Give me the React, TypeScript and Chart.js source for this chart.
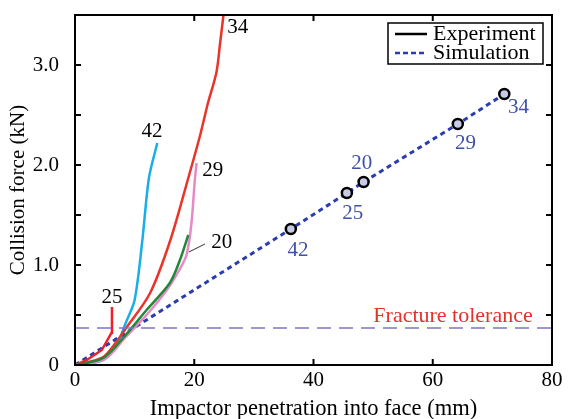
import React, { useEffect, useRef } from "react";
import { Chart, registerables } from "chart.js";
Chart.register(...registerables);

const FONT = "'Liberation Serif', 'Times New Roman', serif";

// Experiment curves (penetration mm, force kN)
const exp34X = [0, 3, 5, 8.7, 12.6, 16, 19, 21, 22.3, 23.7, 24.3, 25.2];
const exp34Y = [0, 0.04, 0.09, 0.38, 0.72, 1.25, 1.87, 2.3, 2.62, 2.92, 3.2, 3.65];
const exp42X = [0, 3, 5, 7, 8.5, 10, 11.3, 12.4, 13.8];
const exp42Y = [0, 0.02, 0.06, 0.2, 0.42, 0.65, 1.25, 1.87, 2.22];
const exp29X = [0, 3, 5.5, 8.5, 12, 15.4, 17.5, 18.7, 19.5, 20.1, 20.4];
const exp29Y = [0, 0.02, 0.08, 0.28, 0.5, 0.75, 0.95, 1.1, 1.4, 1.85, 2.02];
const exp20X = [0, 2, 5, 8.5, 12, 15.9, 17.6, 19];
const exp20Y = [0, 0.02, 0.08, 0.3, 0.55, 0.82, 1.05, 1.3];
const exp25X = [0, 2, 4.5, 6.1, 6.2];
const exp25Y = [0, 0.05, 0.15, 0.32, 0.58];

// Simulation
const simX = [0, 36.2, 45.6, 48.4, 64.2, 72];
const simY = [0, 1.36, 1.72, 1.83, 2.41, 2.71];
const simLabels = ["", "42", "25", "20", "29", "34"];
const simLabelX = [0, 37.4, 46.6, 48.1, 65.5, 74.4];
const simLabelY = [0, 1.15, 1.52, 2.02, 2.22, 2.58];

const expLabels = ["34", "42", "29", "20", "25"];
const expLabelX = [27.3, 12.9, 23.1, 24.6, 6.2];
const expLabelY = [3.38, 2.34, 1.95, 1.23, 0.68];

const fractureTolerance = 0.37;
const xTicks = [0, 20, 40, 60, 80];
const yTicks = [0, 0.5, 1, 1.5, 2, 2.5, 3, 3.5];

const zip = (xs: number[], ys: number[]) => xs.map((x, i) => ({ x, y: ys[i] }));

const overlay = {
  id: "overlay",
  afterDatasetsDraw(chart: any) {
    const { ctx, chartArea, scales } = chart;
    const { left, right, top, bottom } = chartArea;
    const x = scales.x, y = scales.y;
    ctx.save();
    ctx.strokeStyle = "#000";
    ctx.lineWidth = 2;
    ctx.strokeRect(left, top, right - left, bottom - top);
    const seg = (a: number, b: number, c: number, d: number) => {
      ctx.beginPath(); ctx.moveTo(a, b); ctx.lineTo(c, d); ctx.stroke();
    };
    for (const v of xTicks) {
      const px = x.getPixelForValue(v);
      seg(px, bottom, px, bottom - 6);
      seg(px, top, px, top + 6);
    }
    for (const v of yTicks) {
      const py = y.getPixelForValue(v);
      seg(left, py, left + 6, py);
      seg(right, py, right - 6, py);
    }
    ctx.font = `21px ${FONT}`;
    ctx.textAlign = "center";
    ctx.textBaseline = "middle";
    ctx.fillStyle = "#000";
    expLabels.forEach((t, i) => {
      ctx.fillText(t, x.getPixelForValue(expLabelX[i]), y.getPixelForValue(expLabelY[i]));
    });
    // leader for "20"
    ctx.lineWidth = 1;
    ctx.strokeStyle = "#333";
    seg(x.getPixelForValue(21.8), y.getPixelForValue(1.21), x.getPixelForValue(19.1), y.getPixelForValue(1.13));
    ctx.fillStyle = "#4050a8";
    simLabels.forEach((t, i) => {
      if (!t) return;
      ctx.fillText(t, x.getPixelForValue(simLabelX[i]), y.getPixelForValue(simLabelY[i]));
    });
    ctx.fillStyle = "#e8302a";
    ctx.font = `22px ${FONT}`;
    ctx.fillText("Fracture tolerance", x.getPixelForValue(63.4), y.getPixelForValue(0.49));
    // legend
    const lx = right - 164, ly = top + 8, lw = 155, lh = 41;
    ctx.fillStyle = "#fff";
    ctx.fillRect(lx, ly, lw, lh);
    ctx.strokeStyle = "#000";
    ctx.lineWidth = 1.5;
    ctx.strokeRect(lx, ly, lw, lh);
    ctx.lineWidth = 2.5;
    seg(lx + 7, ly + 11, lx + 39, ly + 11);
    ctx.strokeStyle = "#2b3cae";
    ctx.setLineDash([5, 3]);
    seg(lx + 7, ly + 30, lx + 39, ly + 30);
    ctx.setLineDash([]);
    ctx.fillStyle = "#000";
    ctx.textAlign = "left";
    ctx.font = `22px ${FONT}`;
    ctx.fillText("Experiment", lx + 45, ly + 11);
    ctx.fillText("Simulation", lx + 45, ly + 30);
    ctx.restore();
  },
};

export default function App() {
  const ref = useRef<HTMLCanvasElement>(null);
  useEffect(() => {
    document.body.style.margin = "0";
    const line = (data: any, color: string, extra: any = {}) => ({
      data, borderColor: color, backgroundColor: color, borderWidth: 2.5,
      pointRadius: 0, tension: 0.3, showLine: true, ...extra,
    });
    const chart = new Chart(ref.current!, {
      type: "scatter",
      data: {
        datasets: [
          line([{ x: 0, y: fractureTolerance }, { x: 80, y: fractureTolerance }], "#7d74c9", { borderWidth: 1.5, borderDash: [14, 8], tension: 0 }),
          line(zip(exp20X, exp20Y), "#23873a"),
          line(zip(exp29X, exp29Y), "#e58ac6"),
          line(zip(exp34X, exp34Y), "#e8342a"),
          line(zip(exp42X, exp42Y), "#1aaee8"),
          line(zip(exp25X, exp25Y), "#f0202a", { tension: 0 }),
          line(zip(simX, simY), "#2b3cae", {
            borderWidth: 3, borderDash: [5, 4], tension: 0,
            pointRadius: simX.map((_, i) => (i === 0 ? 0 : 5)),
            pointBorderColor: "#000", pointBackgroundColor: "#c8cbe6", pointBorderWidth: 2.5,
          }),
        ],
      },
      options: {
        animation: false,
        responsive: false,
        devicePixelRatio: 1,
        layout: { padding: { left: 0, top: 15, right: 19, bottom: 0 } },
        plugins: { legend: { display: false }, tooltip: { enabled: false } },
        scales: {
          x: {
            type: "linear", min: 0, max: 80,
            ticks: { stepSize: 20, color: "#000", font: { family: FONT, size: 21, lineHeight: 1 }, padding: -3, maxRotation: 0, autoSkip: false },
            grid: { display: false },
            border: { display: true, color: "#000", width: 2 },
            title: { display: true, text: "Impactor penetration into face (mm)", color: "#000", font: { family: FONT, size: 22.5 }, padding: { top: 0, bottom: -4 } },
            afterFit: (s: any) => { s.height = 54; },
          },
          y: {
            type: "linear", min: 0, max: 3.5,
            ticks: {
              stepSize: 0.5, color: "#000", font: { family: FONT, size: 21 }, padding: 8, autoSkip: false,
              callback: (v: any) => (v === 0 ? "0" : Math.abs(v % 1) < 1e-9 ? Number(v).toFixed(1) : ""),
            },
            grid: { display: false },
            border: { display: true, color: "#000", width: 2 },
            title: { display: true, text: "Collision force (kN)", color: "#000", font: { family: FONT, size: 21 }, padding: { top: 6, bottom: 0 } },
            afterFit: (s: any) => { s.width = 75; s.paddingTop = 0; s.paddingBottom = 0; },
          },
        },
      } as any,
      plugins: [overlay],
    });
    return () => chart.destroy();
  }, []);
  return <canvas ref={ref} width={571} height={419} style={{ display: "block" }} />;
}
